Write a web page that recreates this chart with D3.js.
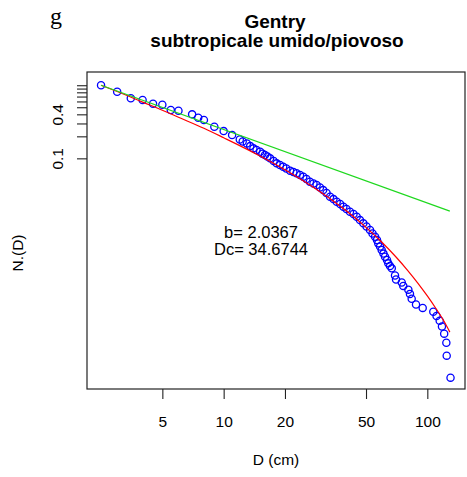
<!DOCTYPE html>
<html><head><meta charset="utf-8">
<script src="https://cdn.jsdelivr.net/npm/d3@7"></script>
<style>
body{margin:0;background:#fff}
svg{display:block}
text{font-family:"Liberation Sans",Arial,Helvetica,sans-serif;fill:#000}
</style>
</head><body>
<svg id="chart" width="467" height="477"></svg>
<script>
// ---- data ----
const diameters = [2.5,3.0,3.5,4.0,4.5,5.0,5.5,6.0,7.0,7.5,8.0,9.0,10,11,12,
  12.4,13.0,13.5,14.0,14.5,15.1,15.5,15.95,16.4,16.9,17.6,18.2,18.9,19.6,20.3,21.2,22.0,22.8,23.7,24.6,25.5,26.5,27.6,28.6,29.7,30.8,32.0,33.3,34.6,35.9,37.3,38.7,40.1,41.7,43.4,45.0,46.7,48.5,50.3,52.3,53.8,55.4,56.6,57.4,58.6,59.7,60.9,62.0,63.4,64.3,65.6,66.9,
  69.4,70.2,74.9,76.2,80.7,82.2,83.8,88.0,94.9,107,111,115,118,121,124,124.5,130];
const cumFreq = [1.0,0.815,0.665,0.63,0.56,0.54,0.458,0.448,0.40,0.359,0.334,0.2705,0.236,0.208,0.181,
  0.170,0.160,0.147,0.137,0.130,0.123,0.116,0.111,0.106,0.100,0.0919,0.0854,0.0810,0.0767,0.0725,0.0677,0.0650,0.0624,0.0591,0.0560,0.0521,0.0479,0.0452,0.0431,0.0399,0.0368,0.0335,0.0298,0.0277,0.0255,0.0237,0.0218,0.0203,0.0186,0.0173,0.0159,0.0143,0.0129,0.0117,0.01045,0.00936,0.00846,0.00763,0.00687,0.00621,0.00557,0.00498,0.00451,0.00406,0.00366,0.00336,0.00313,
  0.0025,0.0022,0.0020,0.0018,0.0016,0.0014,0.0012,0.0010,0.0009,0.0008,0.0007,0.0006,0.0005,0.0004,0.0003,0.0002,0.0001];

// tapered fit (red)
const taperD = [2.5,3,4,5,6,8,10,15,20,30,40,50,60,70,80,90,100,110,120,129];
const taperN = [1.0,0.82,0.588,0.455,0.365,0.258,0.1914,0.1088,0.0699,0.0344,0.01914,0.01138,0.00706,0.00451,0.002943,0.001953,0.001312,0.000891,0.00061,0.00042];

// pure power-law line (green)
const powerD = [2.5,129];
const powerN = [1.0,0.019];

const xTickValues = [5,10,20,50,100];
const yTickValues = [0.1,0.2,0.3,0.4,0.5,0.6,0.7,0.8,0.9,1.0];
const yTickLabels = ["0.1","","","0.4","","","","","",""];

const panelLetter = "g";
const titleLines = ["Gentry","subtropicale umido/piovoso"];
const xLabel = "D (cm)";
const yLabel = "N.(D)";
const fitText = ["b= 2.0367","Dc= 34.6744"];

// ---- layout ----
const L = 87, R = 465, T = 72, B = 389;
const svg = d3.select("#chart");

const x = d3.scaleLog().domain([Math.pow(10,0.329), Math.pow(10,2.185)]).range([L,R]);
const y = d3.scaleLog().domain([Math.pow(10,-4.155), Math.pow(10,0.181)]).range([B,T]);

// points
const pts = diameters.map((d,i)=>({d:d,n:cumFreq[i]}));
svg.append("g").selectAll("circle").data(pts).join("circle")
  .attr("cx",p=>x(p.d)).attr("cy",p=>y(p.n)).attr("r",3.6)
  .attr("fill","none").attr("stroke","#0000ff").attr("stroke-width",1.3);

// red fit
const line = d3.line().x(p=>x(p[0])).y(p=>y(p[1])).curve(d3.curveMonotoneX);
svg.append("path").datum(taperD.map((d,i)=>[d,taperN[i]]))
  .attr("d",line).attr("fill","none").attr("stroke","#ff0000").attr("stroke-width",1.2);
// green line
svg.append("path").datum(powerD.map((d,i)=>[d,powerN[i]]))
  .attr("d",d3.line().x(p=>x(p[0])).y(p=>y(p[1]))).attr("fill","none")
  .attr("stroke","#1fd81f").attr("stroke-width",1.2);

// box
svg.append("rect").attr("x",L).attr("y",T).attr("width",R-L).attr("height",B-T)
  .attr("fill","none").attr("stroke","#222").attr("stroke-width",1.2);

// x axis
const gx = svg.append("g").attr("transform",`translate(0,${B})`)
  .call(d3.axisBottom(x).tickValues(xTickValues).tickFormat(d3.format("d")).tickSize(10).tickSizeOuter(0));
gx.select(".domain").remove();
gx.selectAll(".tick line").attr("stroke","#222").attr("stroke-width",1.1);
gx.selectAll(".tick text").attr("y",38).attr("dy",null)
  .style("font-size","15.5px").style("font-family","'Liberation Sans',Arial,sans-serif").attr("fill","#000");

// y axis
const gy = svg.append("g").attr("transform",`translate(${L},0)`)
  .call(d3.axisLeft(y).tickValues(yTickValues).tickFormat((d,i)=>yTickLabels[i]).tickSize(10).tickSizeOuter(0));
gy.select(".domain").remove();
gy.selectAll(".tick line").attr("stroke","#222").attr("stroke-width",1.1);
gy.selectAll(".tick text").attr("x",null).attr("dy",null)
  .attr("transform","translate(-24,0) rotate(-90)")
  .attr("text-anchor","middle").attr("y",0)
  .style("font-size","15.5px").style("font-family","'Liberation Sans',Arial,sans-serif").attr("fill","#000");

// titles
svg.append("text").attr("x",50).attr("y",24).text(panelLetter)
  .style("font-family","'Liberation Serif','Times New Roman',serif").style("font-size","24px");
svg.append("text").attr("x",275).attr("y",28).attr("text-anchor","middle")
  .style("font-weight","bold").style("font-size","19px").text(titleLines[0]);
svg.append("text").attr("x",277).attr("y",47).attr("text-anchor","middle")
  .style("font-weight","bold").style("font-size","19px").text(titleLines[1]);

// axis labels
svg.append("text").attr("x",276).attr("y",465).attr("text-anchor","middle")
  .style("font-size","15.5px").text(xLabel);
svg.append("text").attr("transform","translate(23,253) rotate(-90)").attr("text-anchor","middle")
  .style("font-size","15.5px").text(yLabel);

// fit annotation
svg.append("text").attr("x",261).attr("y",238).attr("text-anchor","middle")
  .style("font-size","16.5px").text(fitText[0]);
svg.append("text").attr("x",261).attr("y",254.5).attr("text-anchor","middle")
  .style("font-size","16.5px").text(fitText[1]);
</script>
</body></html>
